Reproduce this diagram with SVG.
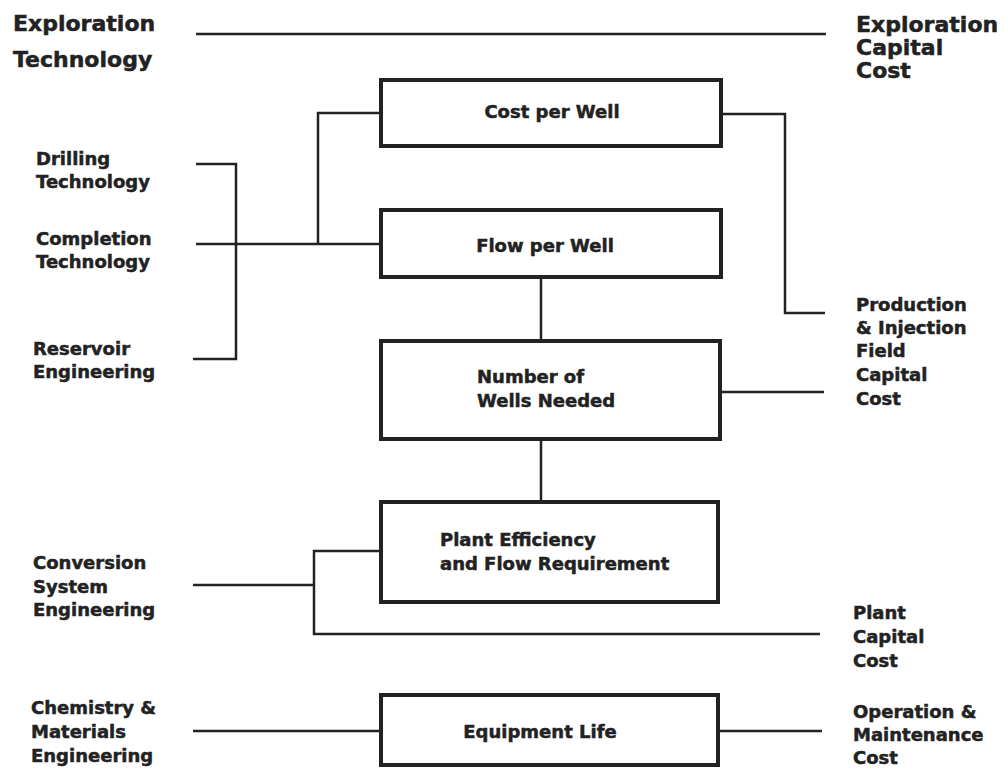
<svg xmlns="http://www.w3.org/2000/svg" width="1008" height="770" viewBox="0 0 1008 770">
<style>
text{font-family:"DejaVu Sans","Liberation Sans",sans-serif;font-weight:bold;fill:#222;stroke:#222;stroke-width:0.5}
.big{font-size:22px}
.lbl{font-size:18px}
.box{fill:#fff;stroke:#222;stroke-width:4}
.ln{fill:none;stroke:#222;stroke-width:2.5}
</style>
<rect width="1008" height="770" fill="#fff"/>
<g id="connectors" class="ln">
<path class="ln" d="M196 34H826"/>
<path class="ln" d="M196 164H236V359H193"/>
<path class="ln" d="M196 244H381"/>
<path class="ln" d="M318 244V113H381"/>
<path class="ln" d="M721 114H785V313H825"/>
<path class="ln" d="M541 277V341"/>
<path class="ln" d="M720 392H824"/>
<path class="ln" d="M541 439V502"/>
<path class="ln" d="M193 585H314"/>
<path class="ln" d="M381 551H314V634H820"/>
<path class="ln" d="M193 731H381"/>
<path class="ln" d="M718 731H822"/>
</g>
<g id="exploration-technology"><text class="big" x="13" y="31">Exploration</text><text class="big" x="13" y="67">Technology</text></g>
<g id="exploration-capital-cost"><text class="big" x="856" y="32">Exploration</text><text class="big" x="856" y="55">Capital</text><text class="big" x="856" y="78">Cost</text></g>
<g id="drilling-technology"><text class="lbl" x="36" y="165">Drilling</text><text class="lbl" x="36" y="188">Technology</text></g>
<g id="completion-technology"><text class="lbl" x="36" y="245">Completion</text><text class="lbl" x="36" y="268">Technology</text></g>
<g id="reservoir-engineering"><text class="lbl" x="33" y="355">Reservoir</text><text class="lbl" x="33" y="378">Engineering</text></g>
<g id="conversion-system-engineering"><text class="lbl" x="33" y="569">Conversion</text><text class="lbl" x="33" y="593">System</text><text class="lbl" x="33" y="616">Engineering</text></g>
<g id="chemistry-materials-engineering"><text class="lbl" x="31" y="714">Chemistry &amp;</text><text class="lbl" x="31" y="738">Materials</text><text class="lbl" x="31" y="762">Engineering</text></g>
<g id="production-injection-cost"><text class="lbl" x="856" y="311">Production</text><text class="lbl" x="856" y="334">&amp; Injection</text><text class="lbl" x="856" y="357">Field</text><text class="lbl" x="856" y="381">Capital</text><text class="lbl" x="856" y="405">Cost</text></g>
<g id="plant-capital-cost"><text class="lbl" x="853" y="619">Plant</text><text class="lbl" x="853" y="643">Capital</text><text class="lbl" x="853" y="667">Cost</text></g>
<g id="om-cost"><text class="lbl" x="853" y="718">Operation &amp;</text><text class="lbl" x="853" y="741">Maintenance</text><text class="lbl" x="853" y="764">Cost</text></g>
<g id="cost-per-well"><rect class="box" x="381" y="80" width="340" height="66"/><text class="lbl" x="552" y="118" text-anchor="middle">Cost per Well</text></g>
<g id="flow-per-well"><rect class="box" x="381" y="210" width="340" height="67"/><text class="lbl" x="545" y="252" text-anchor="middle">Flow per Well</text></g>
<g id="number-of-wells"><rect class="box" x="381" y="341" width="339" height="98"/><text class="lbl" x="477" y="383">Number of</text><text class="lbl" x="477" y="407">Wells Needed</text></g>
<g id="plant-efficiency"><rect class="box" x="381" y="502" width="337" height="100"/><text class="lbl" x="440" y="546">Plant Efficiency</text><text class="lbl" x="440" y="570">and Flow Requirement</text></g>
<g id="equipment-life"><rect class="box" x="381" y="695" width="337" height="70"/><text class="lbl" x="540" y="738" text-anchor="middle">Equipment Life</text></g>
</svg>
